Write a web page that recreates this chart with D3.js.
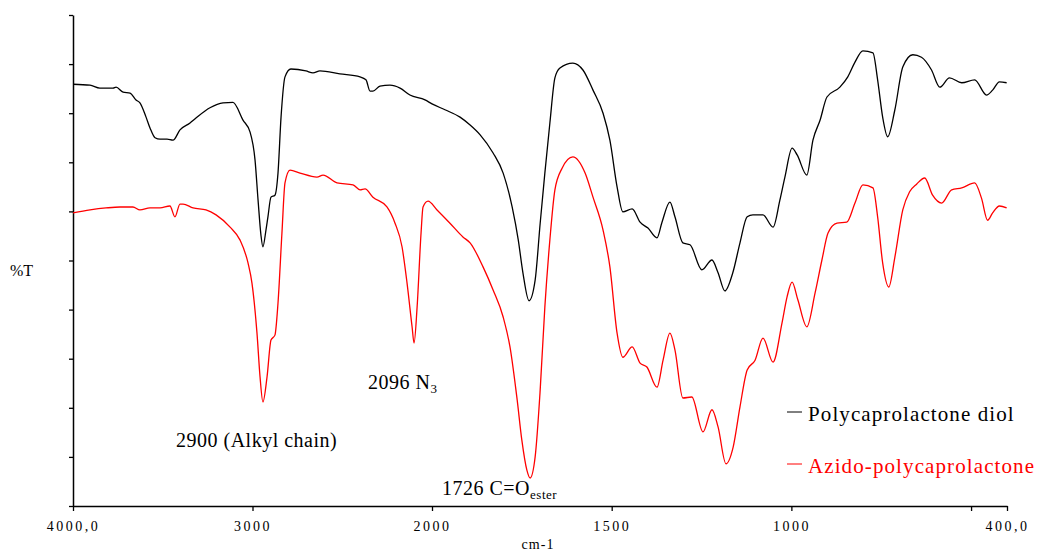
<!DOCTYPE html>
<html>
<head>
<meta charset="utf-8">
<script src="https://cdn.jsdelivr.net/npm/d3@7"></script>
<style>
  body { margin: 0; background: #fff; }
  svg text { font-family: "Liberation Serif", "Tinos", "DejaVu Serif", serif; }
</style>
</head>
<body>
<script>
// FTIR spectra, wavenumber (cm-1) vs %T
const diolWavenumber = [4000, 3905, 3850, 3777, 3760, 3721, 3682, 3649, 3627, 3593, 3571, 3543, 3515, 3476, 3443, 3404, 3348, 3315, 3237, 3164, 3109, 3053, 3014, 2986, 2969, 2953, 2942, 2925, 2914, 2897, 2875, 2858, 2841, 2819, 2786, 2702, 2663, 2624, 2513, 2401, 2368, 2345, 2329, 2290, 2234, 2178, 2123, 2039, 2000, 1964, 1922, 1894, 1866, 1830, 1802, 1777, 1760, 1747, 1730, 1713, 1699, 1686, 1672, 1658, 1644, 1608, 1580, 1552, 1524, 1505, 1485, 1469, 1443, 1421, 1399, 1374, 1360, 1338, 1324, 1302, 1282, 1249, 1221, 1204, 1185, 1163, 1143, 1123, 1107, 1079, 1051, 1032, 1018, 998, 984, 957, 940, 920, 901, 865, 843, 823, 801, 773, 760, 746, 732, 712, 690, 662, 638, 610, 587, 560, 526, 490, 457, 440, 421, 401];
const diolValues = [85.9, 85.7, 85.1, 85.1, 85.3, 84.3, 84.1, 82.7, 82.1, 79.2, 77.0, 75.0, 74.7, 74.7, 74.5, 76.6, 78.0, 79.0, 81.1, 82.1, 82.2, 78.6, 76.2, 70.5, 62.3, 55.2, 52.8, 56.2, 58.9, 62.9, 63.3, 67.8, 79.2, 87.4, 89.0, 88.6, 88.2, 88.6, 88.0, 87.4, 86.8, 84.5, 84.5, 85.5, 85.7, 85.1, 83.7, 82.7, 81.9, 80.7, 79.2, 77.6, 75.6, 71.9, 67.8, 60.9, 54.2, 47.5, 41.8, 46.0, 57.6, 67.8, 78.0, 87.2, 89.2, 90.2, 88.8, 84.7, 80.0, 74.5, 65.0, 59.9, 60.5, 57.8, 56.6, 54.6, 57.8, 61.9, 58.9, 53.6, 53.2, 48.1, 50.1, 47.5, 43.8, 47.5, 53.6, 58.9, 59.3, 59.3, 56.8, 62.3, 67.0, 72.9, 71.5, 67.4, 74.5, 78.6, 83.3, 85.3, 87.4, 90.4, 92.7, 92.3, 86.8, 79.2, 75.2, 80.7, 89.4, 91.9, 91.4, 88.8, 85.3, 87.2, 86.2, 86.8, 83.7, 84.7, 86.4, 86.2];

const azidoWavenumber = [4000, 3905, 3816, 3738, 3666, 3627, 3571, 3515, 3460, 3432, 3404, 3387, 3331, 3259, 3203, 3125, 3070, 3025, 3003, 2975, 2958, 2942, 2919, 2897, 2875, 2858, 2836, 2819, 2791, 2735, 2641, 2607, 2529, 2440, 2401, 2373, 2329, 2251, 2206, 2167, 2139, 2111, 2100, 2083, 2061, 2050, 2022, 1986, 1950, 1914, 1894, 1858, 1830, 1802, 1783, 1763, 1750, 1736, 1727, 1713, 1699, 1686, 1672, 1658, 1638, 1608, 1574, 1552, 1524, 1505, 1485, 1469, 1443, 1421, 1402, 1374, 1357, 1338, 1324, 1302, 1277, 1246, 1221, 1204, 1182, 1162, 1143, 1123, 1101, 1079, 1051, 1026, 1012, 998, 982, 957, 934, 915, 898, 873, 846, 823, 801, 773, 760, 746, 729, 712, 690, 671, 651, 629, 607, 582, 554, 526, 490, 471, 454, 440, 421, 401];
const azidoValues = [59.7, 60.3, 60.7, 60.9, 60.9, 60.3, 60.7, 60.7, 61.1, 58.9, 61.5, 61.5, 60.7, 60.3, 59.3, 56.8, 54.2, 49.5, 45.4, 35.2, 26.3, 21.2, 26.3, 33.8, 34.8, 41.3, 55.6, 65.8, 68.4, 67.8, 67.0, 67.4, 65.8, 65.4, 64.4, 64.6, 62.9, 60.9, 57.6, 52.8, 45.4, 36.5, 33.2, 40.5, 55.6, 60.9, 62.1, 60.3, 57.6, 54.8, 53.6, 48.7, 44.0, 38.5, 32.4, 21.6, 13.4, 7.3, 5.7, 10.0, 23.6, 40.5, 54.2, 64.4, 68.8, 71.1, 67.8, 62.9, 56.2, 48.7, 35.2, 30.3, 32.4, 29.1, 28.3, 24.2, 29.7, 35.2, 31.8, 22.0, 22.2, 15.1, 19.6, 16.1, 8.6, 12.0, 20.2, 27.7, 29.7, 34.2, 29.3, 37.3, 42.6, 45.6, 42.0, 36.5, 43.4, 50.1, 55.6, 57.6, 57.8, 61.7, 65.4, 64.8, 58.9, 49.5, 44.6, 50.7, 60.3, 64.0, 65.6, 66.8, 63.3, 61.7, 64.4, 64.8, 65.8, 62.7, 58.2, 59.7, 61.1, 60.7];

const xTickValues = [4000, 3000, 2000, 1500, 1000, 500, 400];
const xTickLabels = ["4000,0", "3000", "2000", "1500", "1000", "", "400,0"];
const yTickValues = [0, 10, 20, 30, 40, 50, 60, 70, 80, 90, 100];

const seriesNames = ["Polycaprolactone diol", "Azido-polycaprolactone"];
const seriesColors = ["#000000", "#ff0000"];

const serif = "'Liberation Serif', Tinos, 'DejaVu Serif', serif";

const width = 1042;
const height = 553;
const marginTop = 15;
const marginBottom = 47;
const marginLeft = 73;
const plotRight = 1007;

// x axis is compressed above 2000 cm-1 (half scale), as usual for IR
const x = d3.scaleLinear()
    .domain([4000, 2000, 400])
    .range([marginLeft, 432, plotRight]);

const y = d3.scaleLinear()
    .domain([0, 100])
    .range([height - marginBottom, marginTop]);

const svg = d3.select("body").append("svg")
    .attr("width", width)
    .attr("height", height)
    .attr("font-family", serif);

// x axis
const xAxis = svg.append("g")
    .attr("transform", `translate(0,${height - marginBottom})`)
    .call(d3.axisBottom(x)
      .tickValues(xTickValues)
      .tickFormat((d, i) => xTickLabels[i])
      .tickSizeInner(5)
      .tickSizeOuter(0)
      .tickPadding(10));
xAxis.attr("font-family", serif);
xAxis.select(".domain").attr("stroke-width", 1.5);
xAxis.selectAll(".tick line").attr("stroke-width", 1.3);
xAxis.selectAll("text")
    .attr("font-size", 14)
    .attr("letter-spacing", 2.5)
    .attr("fill", "#000");

// y axis (no labels)
const yAxis = svg.append("g")
    .attr("transform", `translate(${marginLeft},0)`)
    .call(d3.axisLeft(y)
      .tickValues(yTickValues)
      .tickFormat("")
      .tickSizeInner(4)
      .tickSizeOuter(0));
yAxis.select(".domain").attr("stroke-width", 1.5);
yAxis.selectAll(".tick line").attr("stroke-width", 1.3);

// spectra
const line = d3.line()
    .x(d => x(d[0]))
    .y(d => y(d[1]))
    .curve(d3.curveMonotoneX);

const series = [
  d3.zip(diolWavenumber, diolValues),
  d3.zip(azidoWavenumber, azidoValues)
];

svg.selectAll(".spectrum")
  .data(series)
  .join("path")
    .attr("class", "spectrum")
    .attr("fill", "none")
    .attr("stroke", (d, i) => seriesColors[i])
    .attr("stroke-width", 1.3)
    .attr("stroke-linejoin", "round")
    .attr("d", line);

// axis titles
svg.append("text")
    .attr("x", 10)
    .attr("y", 276)
    .attr("font-size", 16)
    .text("%T");

svg.append("text")
    .attr("x", 538)
    .attr("y", 549)
    .attr("text-anchor", "middle")
    .attr("font-size", 14)
    .attr("letter-spacing", 1)
    .text("cm-1");

// peak annotations
svg.append("text")
    .attr("x", 176)
    .attr("y", 447)
    .attr("font-size", 20)
    .attr("letter-spacing", 0.5)
    .text("2900 (Alkyl chain)");

const n3 = svg.append("text")
    .attr("x", 368)
    .attr("y", 389)
    .attr("font-size", 20)
    .attr("letter-spacing", 0.5)
    .text("2096 N");
n3.append("tspan")
    .attr("font-size", 13)
    .attr("dy", 4)
    .text("3");

const co = svg.append("text")
    .attr("x", 442)
    .attr("y", 495)
    .attr("font-size", 20)
    .attr("letter-spacing", 0.5)
    .text("1726 C=O");
co.append("tspan")
    .attr("font-size", 13)
    .attr("dy", 4)
    .text("ester");

// legend
const legend = svg.append("g")
    .selectAll("g")
    .data(seriesNames)
    .join("g")
    .attr("transform", (d, i) => `translate(786,${421 + i * 52})`);

legend.append("line")
    .attr("x1", 1)
    .attr("x2", 16)
    .attr("y1", -9)
    .attr("y2", -9)
    .attr("stroke", (d, i) => seriesColors[i])
    .attr("stroke-width", 1);

legend.append("text")
    .attr("x", 22)
    .attr("font-size", 21)
    .attr("letter-spacing", 1.1)
    .attr("fill", (d, i) => seriesColors[i])
    .text(d => d);
</script>
</body>
</html>
